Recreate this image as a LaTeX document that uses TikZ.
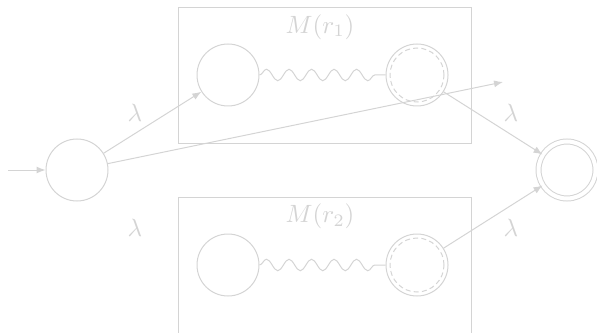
\documentclass[tikz,border=0pt]{standalone}
\usetikzlibrary{arrows.meta,decorations.pathmorphing}
\definecolor{lg}{gray}{0.83}
\begin{document}
\begin{tikzpicture}[x=0.4pt,y=-0.4pt,
  every node/.style={text=lg},
  st/.style={circle,draw=lg,minimum size=24.8pt,inner sep=0pt,line width=0.4pt},
  fin/.style={circle,draw=lg,double=white,double distance=1.6pt,minimum size=23.6pt-0.8pt,inner sep=0pt,line width=0.4pt},
  acc/.style={st,path picture={\draw[lg,dash pattern=on 2pt off 1.3pt] (path picture bounding box.center) circle (10.8pt);}},
  edge/.style={draw=lg,line width=0.4pt,-{Latex[length=3.6pt,width=2.8pt]}},
  wave/.style={draw=lg,line width=0.4pt,decorate,decoration={snake,amplitude=2.3pt,segment length=9pt,post length=2pt}},
  box/.style={draw=lg,line width=0.4pt}]
\useasboundingbox (0,0) rectangle (597,332);
\clip (0,0) rectangle (597,332);
\draw[box] (178,8) rectangle (471,144);
\draw[box] (178,197) rectangle (471,345);
\node (m1) at (320,27) {$M(r_1)$};
\node (m2) at (320,216) {$M(r_2)$};
\node[st] (s) at (77,170) {};
\node[st] (a1) at (228,75) {};
\node[acc] (b1) at (417,75) {};
\node[st] (a2) at (228,265) {};
\node[acc] (b2) at (417,265) {};
\node[fin] (f) at (567,170) {};
\coordinate (in) at (8,170);
\coordinate (free) at (503,82);
\draw[edge] (in) -- (s);
\draw[edge] (s) -- (a1);
\draw[edge] (s) -- (free);
\draw[edge] (b1) -- (f);
\draw[edge] (b2) -- (f);
\draw[wave] (a1) -- (b1);
\draw[wave] (a2) -- (b2);
\node (l1) at (135,113) {$\lambda$};
\node (l2) at (135,228) {$\lambda$};
\node (l3) at (511,113) {$\lambda$};
\node (l4) at (511,228) {$\lambda$};
\end{tikzpicture}
\end{document}
